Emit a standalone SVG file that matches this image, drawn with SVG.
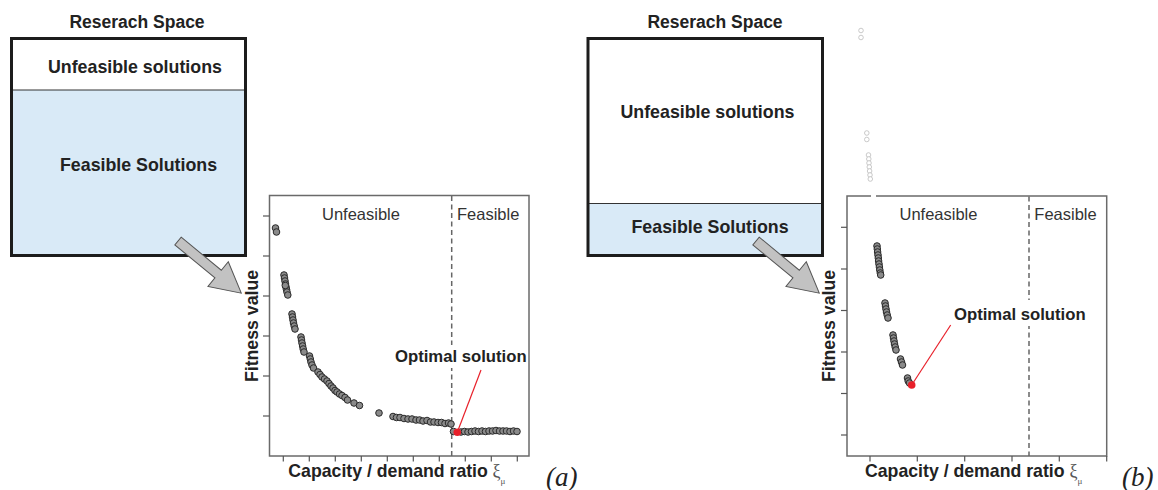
<svg xmlns="http://www.w3.org/2000/svg" width="1158" height="490" viewBox="0 0 1158 490">
<style>
.bold{font-family:"Liberation Sans",Arial,sans-serif;font-weight:bold;fill:#222}
.reg{font-family:"Liberation Sans",Arial,sans-serif;fill:#333;font-size:16.5px}
.box{fill:none;stroke:#1c1c1c;stroke-width:3}
.frame{fill:none;stroke:#6a6a6a;stroke-width:1.5}
.tick{stroke:#555;stroke-width:1.2}
.dash{stroke:#666;stroke-width:1.5;stroke-dasharray:5 3.5}
.pt{fill:#8a8a8a;stroke:#2a2a2a;stroke-width:1}
.fp{fill:#fff;stroke:#bcbcbc;stroke-width:0.8}
.opt{fill:#e8202a}
.lead{stroke:#e8202a;stroke-width:1.2;fill:none}
.arrow{fill:#c2c2c2;stroke:#555;stroke-width:1}
.xi{font-family:"Liberation Serif","Times New Roman",serif;fill:#555}
.lab{font-family:"Liberation Serif","Times New Roman",serif;font-style:italic;font-size:27px;fill:#222}
</style>
<defs>
<polygon id="blockArrow" points="0,-5 52,-5 52,-16 82,0 52,16 52,5 0,5"/>
</defs>
<rect width="1158" height="490" fill="#fff"/>

<g id="left-space">
<text class="bold" x="137" y="28" font-size="17.5" text-anchor="middle">Reserach Space</text>
<rect x="11.5" y="90" width="234" height="165.5" fill="#d9eaf7"/>
<line x1="11.5" y1="90" x2="245.5" y2="90" stroke="#333" stroke-width="1"/>
<rect class="box" x="11.5" y="38.5" width="234" height="217"/>
<text class="bold" x="48" y="73" font-size="17.8">Unfeasible solutions</text>
<text class="bold" x="60" y="171" font-size="17.8">Feasible Solutions</text>
</g>

<g id="left-plot">
<rect class="frame" x="269.5" y="195.5" width="259.5" height="260.5"/>
<g class="tick">
<line x1="263" y1="216" x2="269.5" y2="216"/><line x1="263" y1="256" x2="269.5" y2="256"/>
<line x1="263" y1="296" x2="269.5" y2="296"/><line x1="263" y1="336" x2="269.5" y2="336"/>
<line x1="263" y1="376" x2="269.5" y2="376"/><line x1="263" y1="416" x2="269.5" y2="416"/>
<line x1="283.3" y1="456" x2="283.3" y2="461.5"/><line x1="309.3" y1="456" x2="309.3" y2="461.5"/>
<line x1="335.3" y1="456" x2="335.3" y2="461.5"/><line x1="361.3" y1="456" x2="361.3" y2="461.5"/>
<line x1="387.3" y1="456" x2="387.3" y2="461.5"/><line x1="413.3" y1="456" x2="413.3" y2="461.5"/>
<line x1="439.3" y1="456" x2="439.3" y2="461.5"/><line x1="465.3" y1="456" x2="465.3" y2="461.5"/>
<line x1="491.3" y1="456" x2="491.3" y2="461.5"/><line x1="517.3" y1="456" x2="517.3" y2="461.5"/>
</g>
<line class="dash" x1="451.7" y1="196" x2="451.7" y2="456"/>
<text class="reg" x="322" y="220">Unfeasible</text>
<text class="reg" x="457" y="220">Feasible</text>
<g>
<circle class="pt" cx="275.5" cy="228" r="3.3"/><circle class="pt" cx="276.5" cy="232" r="3.3"/>
<circle class="pt" cx="284" cy="275" r="3.3"/><circle class="pt" cx="284.5" cy="278" r="3.3"/><circle class="pt" cx="285" cy="281" r="3.3"/><circle class="pt" cx="285.5" cy="284" r="3.3"/><circle class="pt" cx="286" cy="287" r="3.3"/><circle class="pt" cx="286.5" cy="289.5" r="3.3"/><circle class="pt" cx="287" cy="292" r="3.3"/><circle class="pt" cx="287.8" cy="295" r="3.3"/><circle class="pt" cx="285.3" cy="285.5" r="3.3"/>
<circle class="pt" cx="292" cy="314" r="3.3"/><circle class="pt" cx="292.5" cy="317" r="3.3"/><circle class="pt" cx="293" cy="320" r="3.3"/><circle class="pt" cx="293.5" cy="323" r="3.3"/><circle class="pt" cx="294.2" cy="326" r="3.3"/><circle class="pt" cx="295" cy="329" r="3.3"/>
<circle class="pt" cx="301" cy="337" r="3.3"/><circle class="pt" cx="301.5" cy="340" r="3.3"/><circle class="pt" cx="302" cy="343" r="3.3"/><circle class="pt" cx="302.6" cy="346" r="3.3"/><circle class="pt" cx="303.2" cy="349" r="3.3"/><circle class="pt" cx="304" cy="352" r="3.3"/>
<circle class="pt" cx="309.5" cy="356" r="3.3"/><circle class="pt" cx="310.3" cy="359" r="3.3"/><circle class="pt" cx="311" cy="362" r="3.3"/><circle class="pt" cx="312" cy="365" r="3.3"/><circle class="pt" cx="313.5" cy="368" r="3.3"/>
<circle class="pt" cx="318" cy="372" r="3.3"/><circle class="pt" cx="320" cy="374.5" r="3.3"/><circle class="pt" cx="322" cy="377" r="3.3"/><circle class="pt" cx="324.5" cy="379" r="3.3"/><circle class="pt" cx="327" cy="381" r="3.3"/><circle class="pt" cx="329" cy="383.5" r="3.3"/>
<circle class="pt" cx="331" cy="386" r="3.3"/><circle class="pt" cx="333" cy="388" r="3.3"/><circle class="pt" cx="335" cy="390.5" r="3.3"/><circle class="pt" cx="337" cy="392" r="3.3"/>
<circle class="pt" cx="339.5" cy="394" r="3.3"/><circle class="pt" cx="342" cy="395.5" r="3.3"/><circle class="pt" cx="345" cy="397.5" r="3.3"/><circle class="pt" cx="347.5" cy="400" r="3.3"/>
<circle class="pt" cx="354" cy="403" r="3.3"/><circle class="pt" cx="359.5" cy="405.5" r="3.3"/>
<circle class="pt" cx="379" cy="413" r="3.3"/>
<circle class="pt" cx="393" cy="416.5" r="3.3"/><circle class="pt" cx="396.5" cy="417.5" r="3.3"/><circle class="pt" cx="400" cy="417.5" r="3.3"/><circle class="pt" cx="404" cy="418.5" r="3.3"/><circle class="pt" cx="408" cy="419" r="3.3"/><circle class="pt" cx="412" cy="419" r="3.3"/><circle class="pt" cx="416" cy="420" r="3.3"/><circle class="pt" cx="419.5" cy="420" r="3.3"/><circle class="pt" cx="423" cy="421" r="3.3"/><circle class="pt" cx="427" cy="420.5" r="3.3"/><circle class="pt" cx="430.5" cy="422" r="3.3"/><circle class="pt" cx="434" cy="422" r="3.3"/><circle class="pt" cx="438" cy="422.5" r="3.3"/><circle class="pt" cx="441.5" cy="422.5" r="3.3"/><circle class="pt" cx="445" cy="423.5" r="3.3"/><circle class="pt" cx="448.5" cy="423" r="3.3"/><circle class="pt" cx="451" cy="424" r="3.3"/>
<circle class="pt" cx="453.5" cy="431.5" r="3.3"/><circle class="pt" cx="461" cy="432" r="3.3"/><circle class="pt" cx="464.5" cy="431.5" r="3.3"/><circle class="pt" cx="468" cy="432" r="3.3"/><circle class="pt" cx="471.5" cy="431.5" r="3.3"/><circle class="pt" cx="475" cy="431" r="3.3"/><circle class="pt" cx="478.5" cy="431.5" r="3.3"/><circle class="pt" cx="482" cy="431" r="3.3"/><circle class="pt" cx="485.5" cy="431.5" r="3.3"/><circle class="pt" cx="489" cy="431" r="3.3"/><circle class="pt" cx="492.5" cy="431" r="3.3"/><circle class="pt" cx="496" cy="430.5" r="3.3"/><circle class="pt" cx="499.5" cy="431" r="3.3"/><circle class="pt" cx="503" cy="431" r="3.3"/><circle class="pt" cx="506.5" cy="431" r="3.3"/><circle class="pt" cx="510" cy="431.5" r="3.3"/><circle class="pt" cx="513.5" cy="431" r="3.3"/><circle class="pt" cx="517" cy="431.5" r="3.3"/>
</g>
<circle class="opt" cx="457.3" cy="432.3" r="3.8"/>
<rect x="393" y="345" width="135" height="23" fill="#fff"/>
<text class="bold" x="395" y="362" font-size="16.7">Optimal solution</text>
<text class="bold" x="251.7" y="326" font-size="17.7" text-anchor="middle" dominant-baseline="central" transform="rotate(-90 251.7 326)">Fitness value</text>
<text class="bold" x="288.3" y="477" font-size="17.7">Capacity / demand ratio</text>
<text class="xi" x="492.5" y="477" font-size="18">ξ</text>
<text class="xi" x="500.5" y="483.5" font-size="9">μ</text>
<text class="lab" x="546" y="486">(a)</text>
</g>

<g id="right-space">
<text class="bold" x="715" y="28" font-size="17.5" text-anchor="middle">Reserach Space</text>
<rect x="588" y="203.5" width="234.5" height="52" fill="#d9eaf7"/>
<line x1="588" y1="203.5" x2="822.5" y2="203.5" stroke="#333" stroke-width="1"/>
<rect class="box" x="588" y="38.5" width="234.5" height="217"/>
<text class="bold" x="620.5" y="118" font-size="17.8">Unfeasible solutions</text>
<text class="bold" x="631.5" y="232.5" font-size="17.8">Feasible Solutions</text>
</g>

<g id="right-plot">
<g>
<circle class="fp" cx="861" cy="30.5" r="2.3"/><circle class="fp" cx="861" cy="37.5" r="2.3"/>
<circle class="fp" cx="866.8" cy="133" r="2.3"/><circle class="fp" cx="866.8" cy="139.5" r="2.3"/>
<circle class="fp" cx="868.5" cy="155" r="2.3"/><circle class="fp" cx="868.8" cy="159" r="2.3"/><circle class="fp" cx="869" cy="163" r="2.3"/><circle class="fp" cx="869.3" cy="167" r="2.3"/><circle class="fp" cx="869.6" cy="171" r="2.3"/><circle class="fp" cx="870" cy="175" r="2.3"/><circle class="fp" cx="870.3" cy="179" r="2.3"/>
</g>
<rect class="frame" x="847" y="196" width="259.7" height="260"/>
<rect x="871" y="193" width="5" height="6" fill="#fff"/>
<g class="tick">
<line x1="841" y1="227.3" x2="847" y2="227.3"/><line x1="841" y1="269" x2="847" y2="269"/>
<line x1="841" y1="310.5" x2="847" y2="310.5"/><line x1="841" y1="352" x2="847" y2="352"/>
<line x1="841" y1="393.5" x2="847" y2="393.5"/><line x1="841" y1="435" x2="847" y2="435"/>
<line x1="870" y1="456" x2="870" y2="461.5"/><line x1="917.3" y1="456" x2="917.3" y2="461.5"/>
<line x1="964.7" y1="456" x2="964.7" y2="461.5"/><line x1="1012" y1="456" x2="1012" y2="461.5"/>
<line x1="1059.3" y1="456" x2="1059.3" y2="461.5"/><line x1="1106.7" y1="456" x2="1106.7" y2="461.5"/>
</g>
<line class="dash" x1="1029" y1="196.5" x2="1029" y2="456"/>
<text class="reg" x="899.5" y="220">Unfeasible</text>
<text class="reg" x="1034.3" y="220">Feasible</text>
<g>
<circle class="pt" cx="877" cy="246" r="3.3"/><circle class="pt" cx="877.3" cy="249" r="3.3"/><circle class="pt" cx="877.6" cy="252" r="3.3"/><circle class="pt" cx="878" cy="255" r="3.3"/><circle class="pt" cx="878.3" cy="258" r="3.3"/><circle class="pt" cx="878.6" cy="261" r="3.3"/><circle class="pt" cx="879" cy="264" r="3.3"/><circle class="pt" cx="879.4" cy="267" r="3.3"/><circle class="pt" cx="879.8" cy="270" r="3.3"/><circle class="pt" cx="880.3" cy="273" r="3.3"/><circle class="pt" cx="880.7" cy="275" r="3.3"/>
<circle class="pt" cx="885" cy="303" r="3.3"/><circle class="pt" cx="885.5" cy="306" r="3.3"/><circle class="pt" cx="886" cy="309" r="3.3"/><circle class="pt" cx="886.5" cy="312" r="3.3"/><circle class="pt" cx="887.2" cy="315" r="3.3"/><circle class="pt" cx="888" cy="318" r="3.3"/>
<circle class="pt" cx="893" cy="335" r="3.3"/><circle class="pt" cx="893.5" cy="338" r="3.3"/><circle class="pt" cx="894" cy="341" r="3.3"/><circle class="pt" cx="894.5" cy="344" r="3.3"/><circle class="pt" cx="895.2" cy="347" r="3.3"/><circle class="pt" cx="896" cy="350" r="3.3"/>
<circle class="pt" cx="900.5" cy="359" r="3.3"/><circle class="pt" cx="901.5" cy="362" r="3.3"/><circle class="pt" cx="902.5" cy="365" r="3.3"/>
<circle class="pt" cx="907.5" cy="378" r="3.3"/><circle class="pt" cx="908.2" cy="381" r="3.3"/><circle class="pt" cx="909.5" cy="383" r="3.3"/>
</g>
<circle class="opt" cx="911.7" cy="385" r="3.8"/>
<rect x="952" y="300" width="136" height="26" fill="#fff"/>
<text class="bold" x="954" y="319.5" font-size="16.7">Optimal solution</text>
<text class="bold" x="828.5" y="326" font-size="17.7" text-anchor="middle" dominant-baseline="central" transform="rotate(-90 828.5 326)">Fitness value</text>
<text class="bold" x="865" y="477.3" font-size="17.7">Capacity / demand ratio</text>
<text class="xi" x="1069.5" y="477.3" font-size="18">ξ</text>
<text class="xi" x="1077.5" y="483.8" font-size="9">μ</text>
<text class="lab" x="1122" y="486">(b)</text>
</g>

<g id="connectors">
<use href="#blockArrow" class="arrow" transform="translate(178 241) rotate(39.5)"/>
<use href="#blockArrow" class="arrow" transform="translate(756 241) rotate(39.5)"/>
<line class="lead" x1="481" y1="370" x2="457.3" y2="432.3"/>
<line class="lead" x1="950.7" y1="325" x2="911.7" y2="385"/>
</g>
</svg>
